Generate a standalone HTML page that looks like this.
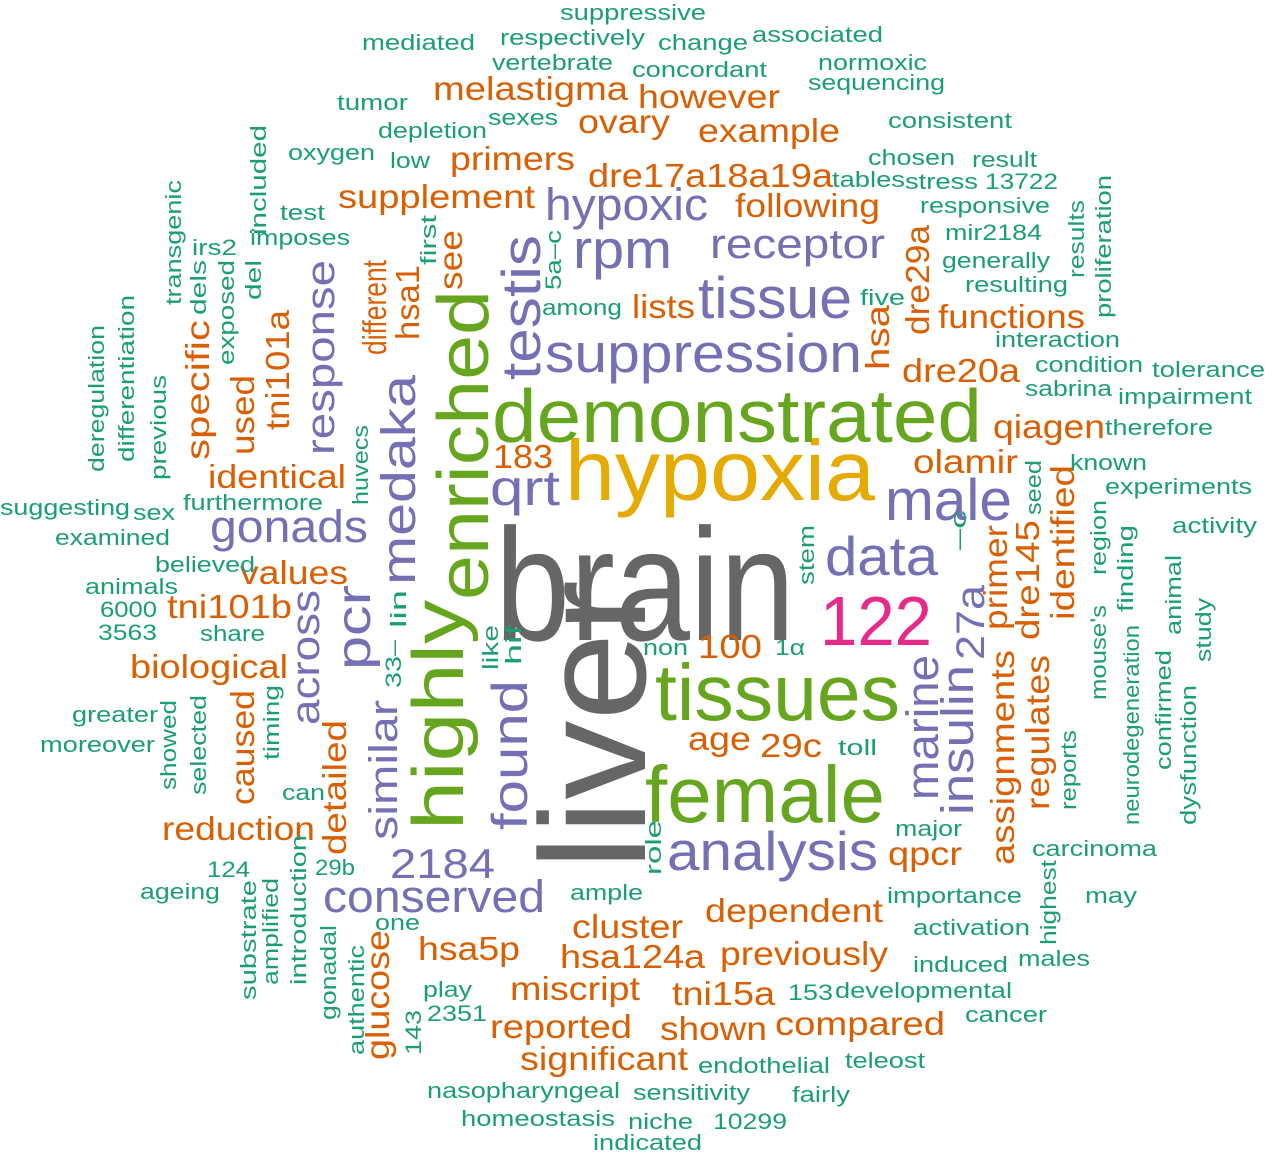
<!DOCTYPE html>
<html><head><meta charset="utf-8"><style>
html,body{margin:0;padding:0;background:#fff}
svg{display:block}
text{font-family:"Liberation Sans",Arial,sans-serif}
.g{fill:#666666}.y{fill:#E6AB02}.gr{fill:#66A61E}.p{fill:#7570B3}.o{fill:#D95F02}.t{fill:#1B9E77}.k{fill:#E7298A}
.o{font-size:33px}.t{font-size:22px}
</style></head><body>
<svg width="1265" height="1152" viewBox="0 0 1265 1152" xmlns="http://www.w3.org/2000/svg">
<g lengthAdjust="spacingAndGlyphs">
<!-- big -->
<text class="g" x="495" y="640" font-size="160" textLength="300" lengthAdjust="spacingAndGlyphs">brain</text>
<text class="g" transform="translate(645,870) rotate(-90)" font-size="150" textLength="290" lengthAdjust="spacingAndGlyphs">liver</text>
<text class="y" x="565" y="500" font-size="85" textLength="310" lengthAdjust="spacingAndGlyphs">hypoxia</text>
<text class="gr" x="492" y="442" font-size="75" textLength="490" lengthAdjust="spacingAndGlyphs">demonstrated</text>
<text class="gr" transform="translate(488,600) rotate(-90)" font-size="72" textLength="310" lengthAdjust="spacingAndGlyphs">enriched</text>
<text class="gr" transform="translate(463,830) rotate(-90)" font-size="72" textLength="230" lengthAdjust="spacingAndGlyphs">highly</text>
<text class="gr" x="655" y="720" font-size="80" textLength="245" lengthAdjust="spacingAndGlyphs">tissues</text>
<text class="gr" x="645" y="822" font-size="80" textLength="240" lengthAdjust="spacingAndGlyphs">female</text>
<text class="k" x="820" y="645" font-size="70" textLength="112" lengthAdjust="spacingAndGlyphs">122</text>
<!-- purple -->
<text class="p" x="667" y="870" font-size="55" textLength="211" lengthAdjust="spacingAndGlyphs">analysis</text>
<text class="p" x="545" y="372" font-size="55" textLength="317" lengthAdjust="spacingAndGlyphs">suppression</text>
<text class="p" x="698" y="318" font-size="58" textLength="154" lengthAdjust="spacingAndGlyphs">tissue</text>
<text class="p" x="573" y="268" font-size="55" textLength="99" lengthAdjust="spacingAndGlyphs">rpm</text>
<text class="p" x="545" y="220" font-size="45" textLength="163" lengthAdjust="spacingAndGlyphs">hypoxic</text>
<text class="p" x="710" y="258" font-size="42" textLength="175" lengthAdjust="spacingAndGlyphs">receptor</text>
<text class="p" x="885" y="520" font-size="58" textLength="127" lengthAdjust="spacingAndGlyphs">male</text>
<text class="p" x="825" y="575" font-size="55" textLength="113" lengthAdjust="spacingAndGlyphs">data</text>
<text class="p" x="490" y="505" font-size="50" textLength="70" lengthAdjust="spacingAndGlyphs">qrt</text>
<text class="p" x="210" y="542" font-size="45" textLength="158" lengthAdjust="spacingAndGlyphs">gonads</text>
<text class="p" x="390" y="878" font-size="42" textLength="105" lengthAdjust="spacingAndGlyphs">2184</text>
<text class="p" x="323" y="912" font-size="45" textLength="222" lengthAdjust="spacingAndGlyphs">conserved</text>
<text class="p" transform="translate(540,380) rotate(-90)" font-size="55" textLength="145" lengthAdjust="spacingAndGlyphs">testis</text>
<text class="p" transform="translate(415,585) rotate(-90)" font-size="48" textLength="210" lengthAdjust="spacingAndGlyphs">medaka</text>
<text class="p" transform="translate(334,455) rotate(-90)" font-size="40" textLength="195" lengthAdjust="spacingAndGlyphs">response</text>
<text class="p" transform="translate(370,670) rotate(-90)" font-size="48" textLength="85" lengthAdjust="spacingAndGlyphs">pcr</text>
<text class="p" transform="translate(319,725) rotate(-90)" font-size="40" textLength="135" lengthAdjust="spacingAndGlyphs">across</text>
<text class="p" transform="translate(527,830) rotate(-90)" font-size="50" textLength="150" lengthAdjust="spacingAndGlyphs">found</text>
<text class="p" transform="translate(397,840) rotate(-90)" font-size="40" textLength="140" lengthAdjust="spacingAndGlyphs">similar</text>
<text class="p" transform="translate(938,800) rotate(-90)" font-size="45" textLength="145" lengthAdjust="spacingAndGlyphs">marine</text>
<text class="p" transform="translate(973,815) rotate(-90)" font-size="45" textLength="150" lengthAdjust="spacingAndGlyphs">insulin</text>
<text class="p" transform="translate(984,660) rotate(-90)" font-size="40" textLength="75" lengthAdjust="spacingAndGlyphs">27a</text>
<!-- orange -->
<text class="o" x="433" y="100" textLength="195" lengthAdjust="spacingAndGlyphs">melastigma</text>
<text class="o" x="638" y="108" textLength="142" lengthAdjust="spacingAndGlyphs">however</text>
<text class="o" x="578" y="133" textLength="92" lengthAdjust="spacingAndGlyphs">ovary</text>
<text class="o" x="698" y="142" textLength="142" lengthAdjust="spacingAndGlyphs">example</text>
<text class="o" x="450" y="170" textLength="125" lengthAdjust="spacingAndGlyphs">primers</text>
<text class="o" x="588" y="187" textLength="245" lengthAdjust="spacingAndGlyphs">dre17a18a19a</text>
<text class="o" x="735" y="217" textLength="145" lengthAdjust="spacingAndGlyphs">following</text>
<text class="o" x="338" y="208" textLength="197" lengthAdjust="spacingAndGlyphs">supplement</text>
<text class="o" x="632" y="318" textLength="63" lengthAdjust="spacingAndGlyphs">lists</text>
<text class="o" x="208" y="488" textLength="138" lengthAdjust="spacingAndGlyphs">identical</text>
<text class="o" x="240" y="584" textLength="108" lengthAdjust="spacingAndGlyphs">values</text>
<text class="o" x="167" y="618" textLength="125" lengthAdjust="spacingAndGlyphs">tni101b</text>
<text class="o" x="130" y="678" textLength="158" lengthAdjust="spacingAndGlyphs">biological</text>
<text class="o" x="162" y="840" textLength="153" lengthAdjust="spacingAndGlyphs">reduction</text>
<text class="o" x="493" y="468" textLength="60" lengthAdjust="spacingAndGlyphs">183</text>
<text class="o" x="698" y="658" textLength="64" lengthAdjust="spacingAndGlyphs">100</text>
<text class="o" x="688" y="750" textLength="63" lengthAdjust="spacingAndGlyphs">age</text>
<text class="o" x="760" y="757" textLength="62" lengthAdjust="spacingAndGlyphs">29c</text>
<text class="o" x="938" y="328" textLength="147" lengthAdjust="spacingAndGlyphs">functions</text>
<text class="o" x="902" y="382" textLength="118" lengthAdjust="spacingAndGlyphs">dre20a</text>
<text class="o" x="993" y="438" textLength="112" lengthAdjust="spacingAndGlyphs">qiagen</text>
<text class="o" x="913" y="473" textLength="105" lengthAdjust="spacingAndGlyphs">olamir</text>
<text class="o" x="888" y="865" textLength="74" lengthAdjust="spacingAndGlyphs">qpcr</text>
<text class="o" x="705" y="922" textLength="178" lengthAdjust="spacingAndGlyphs">dependent</text>
<text class="o" x="572" y="938" textLength="111" lengthAdjust="spacingAndGlyphs">cluster</text>
<text class="o" x="720" y="965" textLength="168" lengthAdjust="spacingAndGlyphs">previously</text>
<text class="o" x="418" y="960" textLength="102" lengthAdjust="spacingAndGlyphs">hsa5p</text>
<text class="o" x="560" y="968" textLength="145" lengthAdjust="spacingAndGlyphs">hsa124a</text>
<text class="o" x="510" y="1000" textLength="130" lengthAdjust="spacingAndGlyphs">miscript</text>
<text class="o" x="672" y="1005" textLength="103" lengthAdjust="spacingAndGlyphs">tni15a</text>
<text class="o" x="490" y="1038" textLength="142" lengthAdjust="spacingAndGlyphs">reported</text>
<text class="o" x="660" y="1040" textLength="107" lengthAdjust="spacingAndGlyphs">shown</text>
<text class="o" x="775" y="1035" textLength="170" lengthAdjust="spacingAndGlyphs">compared</text>
<text class="o" x="520" y="1070" textLength="168" lengthAdjust="spacingAndGlyphs">significant</text>
<text class="o" transform="translate(386,355) rotate(-90)" textLength="95" lengthAdjust="spacingAndGlyphs">different</text>
<text class="o" transform="translate(419,340) rotate(-90)" textLength="75" lengthAdjust="spacingAndGlyphs">hsa1</text>
<text class="o" transform="translate(462,290) rotate(-90)" textLength="60" lengthAdjust="spacingAndGlyphs">see</text>
<text class="o" transform="translate(289,430) rotate(-90)" textLength="120" lengthAdjust="spacingAndGlyphs">tni101a</text>
<text class="o" transform="translate(209,460) rotate(-90)" textLength="140" lengthAdjust="spacingAndGlyphs">specific</text>
<text class="o" transform="translate(254,455) rotate(-90)" textLength="80" lengthAdjust="spacingAndGlyphs">used</text>
<text class="o" transform="translate(254,805) rotate(-90)" textLength="115" lengthAdjust="spacingAndGlyphs">caused</text>
<text class="o" transform="translate(346,855) rotate(-90)" textLength="135" lengthAdjust="spacingAndGlyphs">detailed</text>
<text class="o" transform="translate(889,370) rotate(-90)" textLength="65" lengthAdjust="spacingAndGlyphs">hsa</text>
<text class="o" transform="translate(929,335) rotate(-90)" textLength="110" lengthAdjust="spacingAndGlyphs">dre29a</text>
<text class="o" transform="translate(1007,630) rotate(-90)" textLength="105" lengthAdjust="spacingAndGlyphs">primer</text>
<text class="o" transform="translate(1039,640) rotate(-90)" textLength="120" lengthAdjust="spacingAndGlyphs">dre145</text>
<text class="o" transform="translate(1074,620) rotate(-90)" textLength="155" lengthAdjust="spacingAndGlyphs">identified</text>
<text class="o" transform="translate(1014,865) rotate(-90)" textLength="215" lengthAdjust="spacingAndGlyphs">assignments</text>
<text class="o" transform="translate(1049,810) rotate(-90)" textLength="155" lengthAdjust="spacingAndGlyphs">regulates</text>
<text class="o" transform="translate(389,1060) rotate(-90)" textLength="130" lengthAdjust="spacingAndGlyphs">glucose</text>
<!-- teal horizontal -->
<text class="t" x="560" y="20" textLength="146" lengthAdjust="spacingAndGlyphs">suppressive</text>
<text class="t" x="362" y="50" textLength="113" lengthAdjust="spacingAndGlyphs">mediated</text>
<text class="t" x="500" y="45" textLength="145" lengthAdjust="spacingAndGlyphs">respectively</text>
<text class="t" x="658" y="50" textLength="90" lengthAdjust="spacingAndGlyphs">change</text>
<text class="t" x="752" y="42" textLength="131" lengthAdjust="spacingAndGlyphs">associated</text>
<text class="t" x="492" y="70" textLength="121" lengthAdjust="spacingAndGlyphs">vertebrate</text>
<text class="t" x="632" y="77" textLength="135" lengthAdjust="spacingAndGlyphs">concordant</text>
<text class="t" x="818" y="70" textLength="109" lengthAdjust="spacingAndGlyphs">normoxic</text>
<text class="t" x="808" y="90" textLength="137" lengthAdjust="spacingAndGlyphs">sequencing</text>
<text class="t" x="337" y="110" textLength="71" lengthAdjust="spacingAndGlyphs">tumor</text>
<text class="t" x="488" y="125" textLength="70" lengthAdjust="spacingAndGlyphs">sexes</text>
<text class="t" x="888" y="128" textLength="124" lengthAdjust="spacingAndGlyphs">consistent</text>
<text class="t" x="378" y="138" textLength="109" lengthAdjust="spacingAndGlyphs">depletion</text>
<text class="t" x="288" y="160" textLength="87" lengthAdjust="spacingAndGlyphs">oxygen</text>
<text class="t" x="390" y="168" textLength="40" lengthAdjust="spacingAndGlyphs">low</text>
<text class="t" x="868" y="165" textLength="87" lengthAdjust="spacingAndGlyphs">chosen</text>
<text class="t" x="972" y="167" textLength="65" lengthAdjust="spacingAndGlyphs">result</text>
<text class="t" x="832" y="187" textLength="73" lengthAdjust="spacingAndGlyphs">tables</text>
<text class="t" x="905" y="189" textLength="73" lengthAdjust="spacingAndGlyphs">stress</text>
<text class="t" x="985" y="189" textLength="73" lengthAdjust="spacingAndGlyphs">13722</text>
<text class="t" x="920" y="213" textLength="130" lengthAdjust="spacingAndGlyphs">responsive</text>
<text class="t" x="280" y="220" textLength="45" lengthAdjust="spacingAndGlyphs">test</text>
<text class="t" x="945" y="240" textLength="97" lengthAdjust="spacingAndGlyphs">mir2184</text>
<text class="t" x="250" y="245" textLength="100" lengthAdjust="spacingAndGlyphs">imposes</text>
<text class="t" x="192" y="255" textLength="45" lengthAdjust="spacingAndGlyphs">irs2</text>
<text class="t" x="942" y="268" textLength="108" lengthAdjust="spacingAndGlyphs">generally</text>
<text class="t" x="965" y="292" textLength="103" lengthAdjust="spacingAndGlyphs">resulting</text>
<text class="t" x="860" y="305" textLength="45" lengthAdjust="spacingAndGlyphs">five</text>
<text class="t" x="542" y="315" textLength="80" lengthAdjust="spacingAndGlyphs">among</text>
<text class="t" x="995" y="347" textLength="125" lengthAdjust="spacingAndGlyphs">interaction</text>
<text class="t" x="1035" y="372" textLength="108" lengthAdjust="spacingAndGlyphs">condition</text>
<text class="t" x="1152" y="377" textLength="113" lengthAdjust="spacingAndGlyphs">tolerance</text>
<text class="t" x="1025" y="396" textLength="87" lengthAdjust="spacingAndGlyphs">sabrina</text>
<text class="t" x="1118" y="404" textLength="134" lengthAdjust="spacingAndGlyphs">impairment</text>
<text class="t" x="1105" y="435" textLength="108" lengthAdjust="spacingAndGlyphs">therefore</text>
<text class="t" x="1070" y="470" textLength="77" lengthAdjust="spacingAndGlyphs">known</text>
<text class="t" x="1105" y="494" textLength="147" lengthAdjust="spacingAndGlyphs">experiments</text>
<text class="t" x="1172" y="533" textLength="85" lengthAdjust="spacingAndGlyphs">activity</text>
<text class="t" x="0" y="515" textLength="130" lengthAdjust="spacingAndGlyphs">suggesting</text>
<text class="t" x="133" y="520" textLength="42" lengthAdjust="spacingAndGlyphs">sex</text>
<text class="t" x="183" y="510" textLength="140" lengthAdjust="spacingAndGlyphs">furthermore</text>
<text class="t" x="55" y="545" textLength="115" lengthAdjust="spacingAndGlyphs">examined</text>
<text class="t" x="155" y="572" textLength="100" lengthAdjust="spacingAndGlyphs">believed</text>
<text class="t" x="85" y="594" textLength="93" lengthAdjust="spacingAndGlyphs">animals</text>
<text class="t" x="100" y="617" textLength="57" lengthAdjust="spacingAndGlyphs">6000</text>
<text class="t" x="98" y="640" textLength="59" lengthAdjust="spacingAndGlyphs">3563</text>
<text class="t" x="200" y="641" textLength="65" lengthAdjust="spacingAndGlyphs">share</text>
<text class="t" x="643" y="655" textLength="45" lengthAdjust="spacingAndGlyphs">non</text>
<text class="t" x="775" y="655" textLength="30" lengthAdjust="spacingAndGlyphs">1α</text>
<text class="t" x="72" y="722" textLength="86" lengthAdjust="spacingAndGlyphs">greater</text>
<text class="t" x="40" y="752" textLength="115" lengthAdjust="spacingAndGlyphs">moreover</text>
<text class="t" x="282" y="800" textLength="43" lengthAdjust="spacingAndGlyphs">can</text>
<text class="t" x="895" y="836" textLength="67" lengthAdjust="spacingAndGlyphs">major</text>
<text class="t" x="838" y="755" textLength="39" lengthAdjust="spacingAndGlyphs">toll</text>
<text class="t" x="1032" y="856" textLength="125" lengthAdjust="spacingAndGlyphs">carcinoma</text>
<text class="t" x="207" y="877" textLength="43" lengthAdjust="spacingAndGlyphs">124</text>
<text class="t" x="315" y="875" textLength="40" lengthAdjust="spacingAndGlyphs">29b</text>
<text class="t" x="140" y="899" textLength="80" lengthAdjust="spacingAndGlyphs">ageing</text>
<text class="t" x="570" y="900" textLength="73" lengthAdjust="spacingAndGlyphs">ample</text>
<text class="t" x="887" y="903" textLength="135" lengthAdjust="spacingAndGlyphs">importance</text>
<text class="t" x="1085" y="903" textLength="52" lengthAdjust="spacingAndGlyphs">may</text>
<text class="t" x="375" y="930" textLength="45" lengthAdjust="spacingAndGlyphs">one</text>
<text class="t" x="913" y="935" textLength="117" lengthAdjust="spacingAndGlyphs">activation</text>
<text class="t" x="913" y="972" textLength="95" lengthAdjust="spacingAndGlyphs">induced</text>
<text class="t" x="1018" y="966" textLength="72" lengthAdjust="spacingAndGlyphs">males</text>
<text class="t" x="423" y="997" textLength="49" lengthAdjust="spacingAndGlyphs">play</text>
<text class="t" x="788" y="1000" textLength="45" lengthAdjust="spacingAndGlyphs">153</text>
<text class="t" x="835" y="998" textLength="177" lengthAdjust="spacingAndGlyphs">developmental</text>
<text class="t" x="427" y="1021" textLength="60" lengthAdjust="spacingAndGlyphs">2351</text>
<text class="t" x="965" y="1022" textLength="82" lengthAdjust="spacingAndGlyphs">cancer</text>
<text class="t" x="698" y="1073" textLength="132" lengthAdjust="spacingAndGlyphs">endothelial</text>
<text class="t" x="845" y="1068" textLength="80" lengthAdjust="spacingAndGlyphs">teleost</text>
<text class="t" x="427" y="1098" textLength="193" lengthAdjust="spacingAndGlyphs">nasopharyngeal</text>
<text class="t" x="633" y="1100" textLength="117" lengthAdjust="spacingAndGlyphs">sensitivity</text>
<text class="t" x="792" y="1102" textLength="58" lengthAdjust="spacingAndGlyphs">fairly</text>
<text class="t" x="461" y="1126" textLength="154" lengthAdjust="spacingAndGlyphs">homeostasis</text>
<text class="t" x="628" y="1129" textLength="65" lengthAdjust="spacingAndGlyphs">niche</text>
<text class="t" x="713" y="1129" textLength="74" lengthAdjust="spacingAndGlyphs">10299</text>
<text class="t" x="593" y="1150" textLength="109" lengthAdjust="spacingAndGlyphs">indicated</text>
<!-- teal vertical -->
<text class="t" transform="translate(266,235) rotate(-90)" textLength="110" lengthAdjust="spacingAndGlyphs">included</text>
<text class="t" transform="translate(181,305) rotate(-90)" textLength="125" lengthAdjust="spacingAndGlyphs">transgenic</text>
<text class="t" transform="translate(206,315) rotate(-90)" textLength="55" lengthAdjust="spacingAndGlyphs">dels</text>
<text class="t" transform="translate(261,300) rotate(-90)" textLength="40" lengthAdjust="spacingAndGlyphs">del</text>
<text class="t" transform="translate(436,265) rotate(-90)" textLength="50" lengthAdjust="spacingAndGlyphs">first</text>
<text class="t" transform="translate(561,290) rotate(-90)" textLength="60" lengthAdjust="spacingAndGlyphs">5a–c</text>
<text class="t" transform="translate(234,365) rotate(-90)" textLength="105" lengthAdjust="spacingAndGlyphs">exposed</text>
<text class="t" transform="translate(104,472) rotate(-90)" textLength="147" lengthAdjust="spacingAndGlyphs">deregulation</text>
<text class="t" transform="translate(134,462) rotate(-90)" textLength="167" lengthAdjust="spacingAndGlyphs">differentiation</text>
<text class="t" transform="translate(166,480) rotate(-90)" textLength="105" lengthAdjust="spacingAndGlyphs">previous</text>
<text class="t" transform="translate(368,505) rotate(-90)" textLength="80" lengthAdjust="spacingAndGlyphs">huvecs</text>
<text class="t" transform="translate(1041,515) rotate(-90)" textLength="55" lengthAdjust="spacingAndGlyphs">seed</text>
<text class="t" transform="translate(966,550) rotate(-90)" textLength="40" lengthAdjust="spacingAndGlyphs">–c</text>
<text class="t" transform="translate(814,585) rotate(-90)" textLength="60" lengthAdjust="spacingAndGlyphs">stem</text>
<text class="t" transform="translate(1106,575) rotate(-90)" textLength="75" lengthAdjust="spacingAndGlyphs">region</text>
<text class="t" transform="translate(1133,612) rotate(-90)" textLength="87" lengthAdjust="spacingAndGlyphs">finding</text>
<text class="t" transform="translate(1084,278) rotate(-90)" textLength="78" lengthAdjust="spacingAndGlyphs">results</text>
<text class="t" transform="translate(1111,318) rotate(-90)" textLength="143" lengthAdjust="spacingAndGlyphs">proliferation</text>
<text class="t" transform="translate(521,665) rotate(-90)" textLength="40" lengthAdjust="spacingAndGlyphs">hif</text>
<text class="t" transform="translate(498,670) rotate(-90)" textLength="45" lengthAdjust="spacingAndGlyphs">like</text>
<text class="t" transform="translate(406,628) rotate(-90)" textLength="38" lengthAdjust="spacingAndGlyphs">lin</text>
<text class="t" transform="translate(401,688) rotate(-90)" textLength="48" lengthAdjust="spacingAndGlyphs">33–</text>
<text class="t" transform="translate(279,760) rotate(-90)" textLength="75" lengthAdjust="spacingAndGlyphs">timing</text>
<text class="t" transform="translate(176,790) rotate(-90)" textLength="90" lengthAdjust="spacingAndGlyphs">showed</text>
<text class="t" transform="translate(206,795) rotate(-90)" textLength="100" lengthAdjust="spacingAndGlyphs">selected</text>
<text class="t" transform="translate(1106,700) rotate(-90)" textLength="95" lengthAdjust="spacingAndGlyphs">mouse's</text>
<text class="t" transform="translate(1181,635) rotate(-90)" textLength="80" lengthAdjust="spacingAndGlyphs">animal</text>
<text class="t" transform="translate(1211,662) rotate(-90)" textLength="64" lengthAdjust="spacingAndGlyphs">study</text>
<text class="t" transform="translate(1139,825) rotate(-90)" textLength="200" lengthAdjust="spacingAndGlyphs">neurodegeneration</text>
<text class="t" transform="translate(1171,770) rotate(-90)" textLength="120" lengthAdjust="spacingAndGlyphs">confirmed</text>
<text class="t" transform="translate(1196,825) rotate(-90)" textLength="140" lengthAdjust="spacingAndGlyphs">dysfunction</text>
<text class="t" transform="translate(1076,810) rotate(-90)" textLength="80" lengthAdjust="spacingAndGlyphs">reports</text>
<text class="t" transform="translate(1056,945) rotate(-90)" textLength="85" lengthAdjust="spacingAndGlyphs">highest</text>
<text class="t" transform="translate(661,875) rotate(-90)" textLength="55" lengthAdjust="spacingAndGlyphs">role</text>
<text class="t" transform="translate(306,985) rotate(-90)" textLength="150" lengthAdjust="spacingAndGlyphs">introduction</text>
<text class="t" transform="translate(256,1000) rotate(-90)" textLength="120" lengthAdjust="spacingAndGlyphs">substrate</text>
<text class="t" transform="translate(278,985) rotate(-90)" textLength="107" lengthAdjust="spacingAndGlyphs">amplified</text>
<text class="t" transform="translate(336,1020) rotate(-90)" textLength="95" lengthAdjust="spacingAndGlyphs">gonadal</text>
<text class="t" transform="translate(364,1055) rotate(-90)" textLength="110" lengthAdjust="spacingAndGlyphs">authentic</text>
<text class="t" transform="translate(421,1055) rotate(-90)" textLength="45" lengthAdjust="spacingAndGlyphs">143</text>
</g>
</svg>
</body></html>
